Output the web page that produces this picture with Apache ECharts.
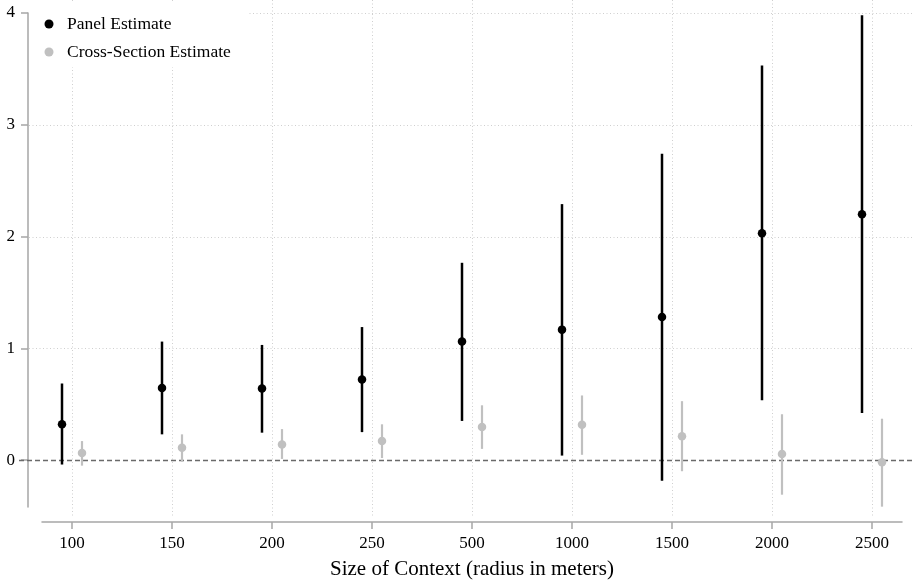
<!DOCTYPE html>
<html>
<head>
<meta charset="utf-8">
<script src="https://cdn.jsdelivr.net/npm/echarts@6/dist/echarts.min.js"></script>
<style>html,body{margin:0;padding:0;background:#fff}#c{width:914px;height:584px}</style>
</head>
<body>
<div id="c"></div>
<script>
const categories = ['100','150','200','250','500','1000','1500','2000','2500'];
const panelEst = [0.32, 0.645, 0.64, 0.72, 1.06, 1.167, 1.28, 2.03, 2.20];
const panelLo  = [-0.04, 0.23, 0.245, 0.25, 0.35, 0.04, -0.185, 0.536, 0.42];
const panelHi  = [0.685, 1.06, 1.03, 1.19, 1.765, 2.29, 2.74, 3.53, 3.98];
const crossEst = [0.0625, 0.11, 0.14, 0.17, 0.295, 0.315, 0.214, 0.054, -0.02];
const crossLo  = [-0.05, -0.015, 0.01, 0.018, 0.10, 0.047, -0.10, -0.31, -0.417];
const crossHi  = [0.17, 0.23, 0.277, 0.32, 0.49, 0.578, 0.527, 0.41, 0.37];
const yTicks = [0, 1, 2, 3, 4];
const gridYs = [1, 2, 3, 4];
const refY = 0;

const FONT = 'Liberation Serif';
const xIdx = categories.map((c, i) => i);
const OFF = 10;

function ciSeries(name, lo, hi, color, width, dx) {
  return {
    type: 'custom', name: name + ' CI', z: 3,
    data: lo.map((l, i) => [i, l, hi[i]]),
    renderItem: function (params, api) {
      const a = api.coord([api.value(0), api.value(1)]);
      const b = api.coord([api.value(0), api.value(2)]);
      return { type: 'line', shape: { x1: a[0] + dx, y1: a[1], x2: b[0] + dx, y2: b[1] },
        style: { stroke: color, lineWidth: width } };
    }
  };
}

const chart = echarts.init(document.getElementById('c'), null, { renderer: 'canvas' });
chart.setOption({
  animation: false,
  backgroundColor: '#fff',
  textStyle: { fontFamily: FONT },
  grid: { left: 42, right: 12, top: 13, bottom: 77, containLabel: false, outerBoundsMode: 'none' },
  legend: {
    left: 29, top: 3, orient: 'vertical', z: 10,
    backgroundColor: '#fff',
    padding: [12, 18, 6, 15.5],
    itemWidth: 9, itemHeight: 9, itemGap: 10, icon: 'circle',
    textStyle: { fontFamily: FONT, fontSize: 17.5, color: '#000', padding: [0, 0, 0, 8.5] },
    data: ['Panel Estimate', 'Cross-Section Estimate']
  },
  xAxis: {
    type: 'value', min: -0.3, max: 8.3, offset: 15,
    axisLine: { show: true, onZero: false, lineStyle: { color: '#a6a6a6', width: 1.5 } },
    axisTick: { show: true, length: 7, customValues: xIdx, lineStyle: { color: '#a6a6a6', width: 1.5 } },
    axisLabel: { customValues: xIdx, margin: 13, fontFamily: FONT, fontSize: 17, color: '#000',
      formatter: v => categories[Math.round(v)] },
    splitLine: { show: false },
    name: 'Size of Context (radius in meters)', nameLocation: 'middle', nameGap: 37,
    nameTextStyle: { fontFamily: FONT, fontSize: 21, color: '#000' }
  },
  yAxis: {
    type: 'value', min: -0.42, max: 4, offset: 14,
    axisLine: { show: true, onZero: false, lineStyle: { color: '#a6a6a6', width: 1.5 } },
    axisTick: { show: true, length: 7, customValues: yTicks, lineStyle: { color: '#a6a6a6', width: 1.5 } },
    axisLabel: { customValues: yTicks, margin: 13, fontFamily: FONT, fontSize: 17, color: '#000' },
    splitLine: { show: false }
  },
  series: [
    ciSeries('Panel Estimate', panelLo, panelHi, '#000', 2.5, -OFF),
    ciSeries('Cross-Section Estimate', crossLo, crossHi, '#c0c0c0', 2.2, OFF),
    { type: 'scatter', name: 'Panel Estimate', z: 5, symbol: 'circle', symbolSize: 8.5, symbolOffset: [-OFF, 0],
      itemStyle: { color: '#000', opacity: 1 }, data: panelEst.map((v, i) => [i, v]) },
    { type: 'scatter', name: 'Cross-Section Estimate', z: 5, symbol: 'circle', symbolSize: 8.5, symbolOffset: [OFF, 0],
      itemStyle: { color: '#c0c0c0', opacity: 1 }, data: crossEst.map((v, i) => [i, v]) }
  ]
});

// plot-region gridlines (extend past axis range like the original)
const W = 914, TOP = 0, BOTTOM = 518, LEFT = 29;
const g = [];
xIdx.forEach(i => {
  const x = Math.round(chart.convertToPixel({ xAxisIndex: 0 }, i)) + 0.5;
  g.push({ type: 'line', z: 0, silent: true, shape: { x1: x, y1: TOP, x2: x, y2: BOTTOM },
    style: { stroke: '#cfcfcf', lineWidth: 1, lineDash: [1, 2.5] } });
});
gridYs.forEach(v => {
  const y = Math.round(chart.convertToPixel({ yAxisIndex: 0 }, v)) + 0.5;
  g.push({ type: 'line', z: 0, silent: true, shape: { x1: LEFT, y1: y, x2: W, y2: y },
    style: { stroke: '#cfcfcf', lineWidth: 1, lineDash: [1, 2.5] } });
});
{
  const y = Math.round(chart.convertToPixel({ yAxisIndex: 0 }, refY)) + 0.5;
  g.push({ type: 'line', z: 1, silent: true, shape: { x1: 19, y1: y, x2: W, y2: y },
    style: { stroke: '#6a6a6a', lineWidth: 1.3, lineDash: [5, 3] } });
}
chart.setOption({ graphic: g });
</script>
</body>
</html>
